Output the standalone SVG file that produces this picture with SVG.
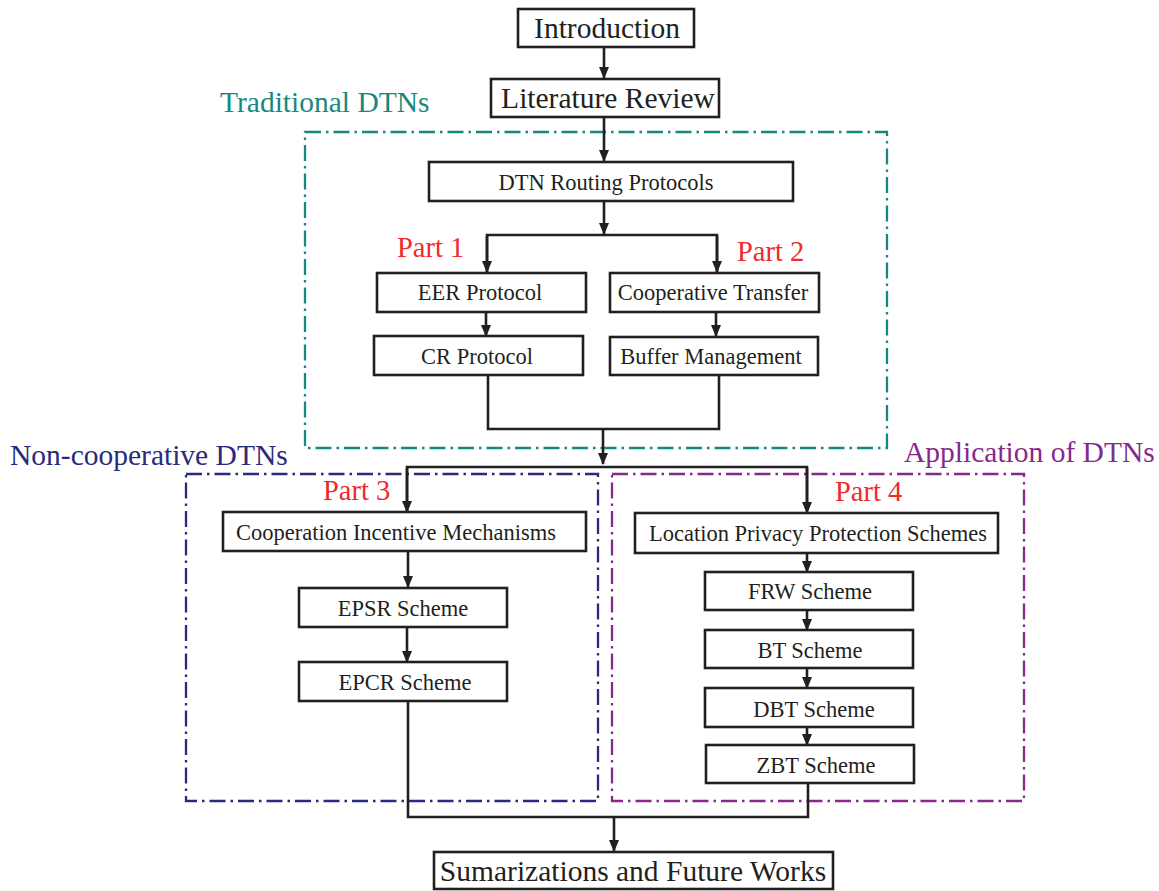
<svg xmlns="http://www.w3.org/2000/svg" width="1159" height="891" viewBox="0 0 1159 891">
<style>
.box{fill:#fff;stroke:#231f20;stroke-width:2.6}
.big{font-family:"Liberation Serif","Times New Roman",serif;font-size:29.5px;fill:#231f20;text-anchor:middle}
.sm{font-family:"Liberation Serif","Times New Roman",serif;font-size:22.5px;fill:#231f20;text-anchor:middle}
.part{font-family:"Liberation Serif","Times New Roman",serif;font-size:28.5px;fill:#ee2a2f}
.lbl{font-family:"Liberation Serif","Times New Roman",serif;font-size:29.5px}
.cont{fill:none;stroke-width:2.3;stroke-dasharray:16 5 2.5 5}
.ln{fill:none;stroke:#231f20;stroke-width:2.6}
.ar{fill:none;stroke:#231f20;stroke-width:2.6;marker-end:url(#ah)}
</style>
<defs>
<marker id="ah" markerUnits="userSpaceOnUse" markerWidth="12" markerHeight="14" refX="11" refY="5" orient="auto" viewBox="0 0 12 10">
<path d="M0,0 L12,5 L0,10 z" fill="#231f20"/>
</marker>
</defs>
<rect width="1159" height="891" fill="#fff"/>

<g id="containers">
<g id="traditional">
<rect class="cont" x="305" y="132" width="582" height="316" stroke="#16897f"/>
<text class="lbl" x="220" y="112" fill="#16897f">Traditional DTNs</text>
</g>
<g id="noncoop">
<rect class="cont" x="186" y="474" width="412" height="327" stroke="#2a2a7c"/>
<text class="lbl" x="10" y="465" fill="#2a2a7c">Non-cooperative DTNs</text>
</g>
<g id="application">
<rect class="cont" x="612" y="474" width="412" height="327" stroke="#862a8a"/>
<text class="lbl" x="904" y="462" fill="#862a8a">Application of DTNs</text>
</g>
</g>

<g id="connectors">
<line class="ar" x1="604" y1="47" x2="604" y2="78"/>
<line class="ar" x1="604" y1="117" x2="604" y2="161"/>
<line class="ar" x1="604" y1="201" x2="604" y2="234"/>
<polyline class="ln" points="487,272 487,235 717,235 717,272"/>
<line class="ar" x1="487" y1="236" x2="487" y2="272"/>
<line class="ar" x1="717" y1="236" x2="717" y2="272"/>
<line class="ar" x1="486" y1="312" x2="486" y2="336"/>
<line class="ar" x1="716" y1="312" x2="716" y2="336"/>
<polyline class="ln" points="488,375 488,429 719,429 719,375"/>
<line class="ar" x1="603" y1="429" x2="603" y2="464"/>
<polyline class="ln" points="407,511 407,467 807,467 807,511"/>
<line class="ar" x1="407" y1="468" x2="407" y2="512"/>
<line class="ar" x1="807" y1="468" x2="807" y2="513"/>
<line class="ar" x1="408" y1="551" x2="408" y2="587"/>
<line class="ar" x1="407" y1="627" x2="407" y2="662"/>
<line class="ar" x1="807" y1="553" x2="807" y2="572"/>
<line class="ar" x1="807" y1="610" x2="807" y2="630"/>
<line class="ar" x1="807" y1="668" x2="807" y2="688"/>
<line class="ar" x1="807" y1="727" x2="807" y2="745"/>
<polyline class="ln" points="408,701 408,817 808,817 808,783"/>
<line class="ar" x1="614" y1="817" x2="614" y2="851"/>
</g>

<g id="introduction">
<rect class="box" x="518" y="9" width="176" height="38"/>
<text class="big" x="607" y="38">Introduction</text>
</g>
<g id="literature-review">
<rect class="box" x="491" y="79" width="228" height="38"/>
<text class="big" x="608" y="108">Literature Review</text>
</g>
<g id="dtn-routing">
<rect class="box" x="429" y="162" width="364" height="39"/>
<text class="sm" x="606" y="190">DTN Routing Protocols</text>
</g>
<g id="part1"><text class="part" x="397" y="257">Part 1</text></g>
<g id="part2"><text class="part" x="737" y="261">Part 2</text></g>
<g id="eer">
<rect class="box" x="377" y="273" width="209" height="39"/>
<text class="sm" x="480" y="300">EER Protocol</text>
</g>
<g id="coop-transfer">
<rect class="box" x="610" y="273" width="209" height="39"/>
<text class="sm" x="713" y="300">Cooperative Transfer</text>
</g>
<g id="cr">
<rect class="box" x="374" y="336" width="209" height="39"/>
<text class="sm" x="477" y="364">CR Protocol</text>
</g>
<g id="buffer">
<rect class="box" x="610" y="337" width="208" height="38"/>
<text class="sm" x="711" y="364">Buffer Management</text>
</g>
<g id="part3"><text class="part" x="323" y="500">Part 3</text></g>
<g id="part4"><text class="part" x="835" y="501">Part 4</text></g>
<g id="coop-incentive">
<rect class="box" x="223" y="512" width="363" height="39"/>
<text class="sm" x="396" y="540">Cooperation Incentive Mechanisms</text>
</g>
<g id="epsr">
<rect class="box" x="299" y="588" width="208" height="39"/>
<text class="sm" x="403" y="616">EPSR Scheme</text>
</g>
<g id="epcr">
<rect class="box" x="299" y="662" width="208" height="39"/>
<text class="sm" x="405" y="690">EPCR Scheme</text>
</g>
<g id="location-privacy">
<rect class="box" x="635" y="513" width="363" height="40"/>
<text class="sm" x="818" y="541">Location Privacy Protection Schemes</text>
</g>
<g id="frw">
<rect class="box" x="705" y="572" width="208" height="38"/>
<text class="sm" x="810" y="599">FRW Scheme</text>
</g>
<g id="bt">
<rect class="box" x="705" y="630" width="208" height="38"/>
<text class="sm" x="810" y="658">BT Scheme</text>
</g>
<g id="dbt">
<rect class="box" x="705" y="688" width="208" height="39"/>
<text class="sm" x="814" y="717">DBT Scheme</text>
</g>
<g id="zbt">
<rect class="box" x="706" y="745" width="208" height="38"/>
<text class="sm" x="816" y="773">ZBT Scheme</text>
</g>
<g id="summary">
<rect class="box" x="434" y="852" width="399" height="37"/>
<text class="big" x="633" y="881">Sumarizations and Future Works</text>
</g>
</svg>
